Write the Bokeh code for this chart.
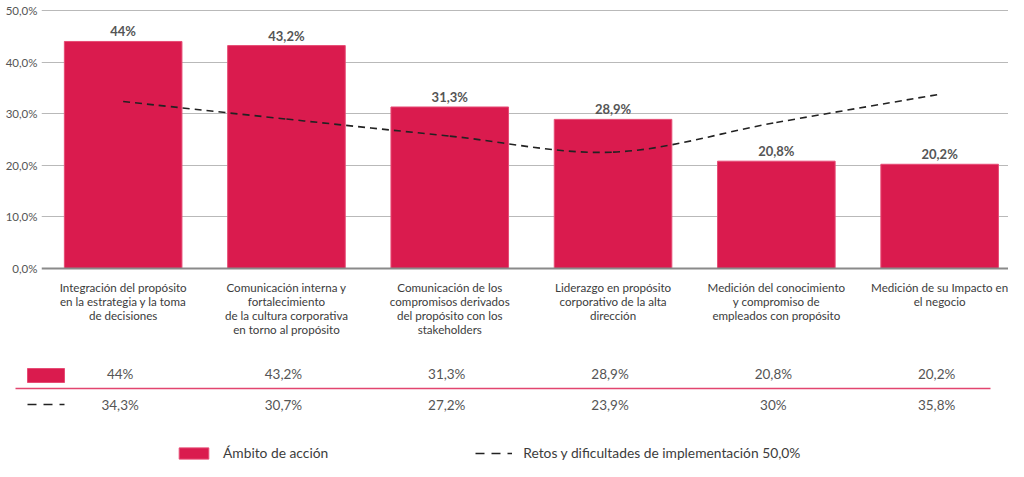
from bokeh.plotting import figure
from bokeh.models import (Range1d, FixedTicker, Span,
                          Legend, LegendItem, ColumnDataSource)
from bokeh.layouts import column
from bokeh.core.properties import value
from bokeh.embed import file_html
from bokeh.resources import INLINE

# ---------------- data ----------------
categories = [
    "Integración del propósito\nen la estrategia y la toma\nde decisiones",
    "Comunicación interna y\nfortalecimiento\nde la cultura corporativa\nen torno al propósito",
    "Comunicación de los\ncompromisos derivados\ndel propósito con los\nstakeholders",
    "Liderazgo en propósito\ncorporativo de la alta\ndirección",
    "Medición del conocimiento\ny compromiso de\nempleados con propósito",
    "Medición de su Impacto en\nel negocio",
]
ambito = [44.0, 43.2, 31.3, 28.9, 20.8, 20.2]
ambito_labels = ["44%", "43,2%", "31,3%", "28,9%", "20,8%", "20,2%"]
retos = [34.3, 30.7, 27.2, 23.9, 30.0, 35.8]
retos_labels = ["34,3%", "30,7%", "27,2%", "23,9%", "30%", "35,8%"]
y_ticks = [0, 10, 20, 30, 40, 50]
y_tick_labels = ["0,0%", "10,0%", "20,0%", "30,0%", "40,0%", "50,0%"]
series_names = ["Ámbito de acción", "Retos y dificultades de implementación 50,0%"]
line_axis_max = 53.0   # the dashed series sits on a secondary scale

# ---------------- styles / layout ----------------
FONT = "Lato"
BAR = "#DA1B4E"
BAR_EDGE = "#E64C75"
TXT = "#3c3c3c"
VAL = "#555555"
PINK_LINE = "#E2466F"

W = 1008
LEFT = 41                 # left border of the chart frame (px)
BAND = 163.3              # px per category band
H_A = 348
H_B = 113
PX = 5.16                 # px per percentage point
ZERO_Y = 268              # px from top of the zero line
Y_END = 50 + (ZERO_Y - 50 * PX) / PX
Y_START = -(H_A - ZERO_Y) / PX
X_END = (W - LEFT) / BAND

n = len(categories)
xs = [i + 0.5 for i in range(n)]

# ---------------- figure A: chart ----------------
pA = figure(width=W, height=H_A, output_backend="svg", toolbar_location=None,
            x_range=Range1d(0, X_END), y_range=Range1d(Y_START, Y_END),
            x_axis_location=None,
            min_border_left=LEFT, min_border_right=0, min_border_top=0,
            min_border_bottom=0, outline_line_color=None)
pA.frame_align = False
pA.xgrid.visible = False
pA.yaxis.ticker = FixedTicker(ticks=y_ticks)
pA.yaxis.major_label_overrides = {t: l for t, l in zip(y_ticks, y_tick_labels)}
pA.yaxis.axis_line_color = None
pA.yaxis.major_tick_line_color = None
pA.yaxis.minor_tick_line_color = None
pA.yaxis.major_tick_out = 0
pA.yaxis.major_tick_in = 0
pA.yaxis.minor_tick_out = 0
pA.yaxis.major_label_standoff = 4
pA.yaxis.major_label_text_font = FONT
pA.yaxis.major_label_text_font_size = "11.5px"
pA.yaxis.major_label_text_color = VAL
pA.ygrid.ticker = FixedTicker(ticks=y_ticks[1:])
pA.ygrid.grid_line_color = "#b9b9b9"
pA.ygrid.grid_line_width = 1.2

srcA = ColumnDataSource(dict(x=xs, cat=categories, val=ambito, lab=ambito_labels))
pA.vbar(x="x", top="val", width=0.72, source=srcA, fill_color=BAR,
        line_color=BAR_EDGE, line_width=1)
pA.add_layout(Span(location=0, dimension="width", line_color="#8a8a8a", line_width=2))
pA.text(x="x", y="val", text="lab", source=srcA, text_align="center",
        text_baseline="bottom", y_offset=-2, text_font=value(FONT),
        text_font_style="bold", text_font_size="13px", text_color=VAL)

# category labels below the axis
pA.text(x="x", y=-2.45, text="cat", source=srcA,
        text_align="center", text_baseline="top", text_font=value(FONT),
        text_font_size="11.6px", text_color=TXT, text_line_height=1.08)

# dashed series, smooth curve on its secondary scale
pA.extra_y_ranges = {"retos": Range1d(Y_START * line_axis_max / 50, Y_END * line_axis_max / 50)}
x0, y0, x1, y1, cx0, cy0, cx1, cy1 = [], [], [], [], [], [], [], []
for i in range(n - 1):
    pxm, pym = (xs[i - 1], retos[i - 1]) if i > 0 else (xs[i], retos[i])
    pxp, pyp = (xs[i + 2], retos[i + 2]) if i + 2 < n else (xs[i + 1], retos[i + 1])
    x0.append(xs[i]); y0.append(retos[i])
    x1.append(xs[i + 1]); y1.append(retos[i + 1])
    cx0.append(xs[i] + (xs[i + 1] - pxm) / 6); cy0.append(retos[i] + (retos[i + 1] - pym) / 6)
    cx1.append(xs[i + 1] - (pxp - xs[i]) / 6); cy1.append(retos[i + 1] - (pyp - retos[i]) / 6)
pA.bezier(x0=x0, y0=y0, x1=x1, y1=y1, cx0=cx0, cy0=cy0, cx1=cx1, cy1=cy1,
          y_range_name="retos", line_color="#222222", line_width=1.6,
          line_dash="7 5")

# ---------------- figure B: data table + legend ----------------
pB = figure(width=W, height=H_B, output_backend="svg", toolbar_location=None,
            x_range=Range1d(-LEFT / BAND, X_END),
            y_range=Range1d(H_B, 0), x_axis_location=None, y_axis_location=None,
            min_border_left=0, min_border_right=0, min_border_top=0,
            min_border_bottom=0, outline_line_color=None)
pB.frame_align = False
pB.grid.visible = False

def bx(px):
    return (px - LEFT) / BAND

pB.text(x=xs, y=[25] * n, text=ambito_labels, text_align="center",
        text_baseline="middle", x_offset=-3, text_font=value(FONT),
        text_font_size="13.5px", text_color=VAL)
pB.text(x=xs, y=[56] * n, text=retos_labels, text_align="center",
        text_baseline="middle", x_offset=-3, text_font=value(FONT),
        text_font_size="13.5px", text_color=VAL)
pB.line(x=[bx(15), bx(990)], y=[40, 40], line_color=PINK_LINE, line_width=1.5)
rowbar = pB.rect(x=[bx(45.5)], y=[27], width=37, height=14, width_units="screen",
                 height_units="screen", fill_color=BAR, line_color=BAR_EDGE)
rowline = pB.line(x=[bx(27), bx(64)], y=[56, 56], line_color="#222222",
                  line_width=1.6, line_dash="9 7")

legend = Legend(items=[LegendItem(label=series_names[0], renderers=[rowbar]),
                       LegendItem(label=series_names[1], renderers=[rowline])],
                orientation="horizontal", location=(175, 0),
                glyph_width=37, glyph_height=14, label_standoff=11, spacing=147,
                label_text_font=FONT, label_text_font_size="13.8px",
                label_text_color=TXT, label_height=14, padding=0, margin=0,
                border_line_color=None, background_fill_alpha=0)
pB.add_layout(legend, "center")

layout = column(pA, pB, spacing=0)
open("out.html", "w").write(file_html(layout, INLINE))
